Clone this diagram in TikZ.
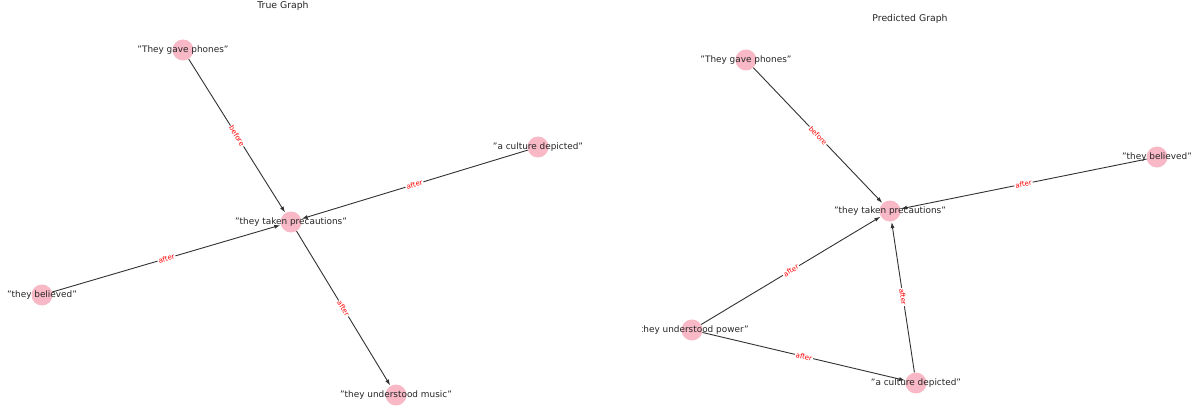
\documentclass[tikz,border=0pt]{standalone}
\usepackage{fontspec}
\setmainfont{DejaVu Sans}
\usetikzlibrary{arrows.meta}
\definecolor{nodepink}{RGB}{248,184,198}
\definecolor{edgecol}{RGB}{50,50,50}
\tikzset{
  vert/.style={circle, fill=nodepink, minimum size=21pt, inner sep=0pt},
  vlabel/.style={font=\fontsize{8.9}{10}\selectfont, text=black!85, inner sep=0pt},
  edge/.style={draw=edgecol, line width=0.9pt, -{Latex[length=6pt,width=4pt]}, shorten >=0.5pt},
  elabel/.style={midway, sloped, fill=white, inner sep=1pt, text=red, font=\fontsize{7}{8}\selectfont},
  title/.style={font=\fontsize{9.3}{10}\selectfont, text=black!85}
}
\begin{document}
\begin{tikzpicture}[x=1pt,y=-1pt]
\useasboundingbox[fill=white] (0,0) rectangle (1191,409);
% titles
\node[title] (t1) at (283,6) {True Graph};
\node[title] (t2) at (910,19) {Predicted Graph};
% ---------- True graph ----------
\node[vert] (A) at (183,50) {};
\node[vert] (T) at (291,222) {};
\node[vert] (C) at (538,147) {};
\node[vert] (B) at (42,295) {};
\node[vert] (M) at (396,395) {};
\draw[edge] (A) -- (T) node[elabel] {before};
\draw[edge] (C) -- (T) node[elabel] {after};
\draw[edge] (B) -- (T) node[elabel] {after};
\draw[edge] (T) -- (M) node[elabel] {after};
\node[vlabel] (lA) at (183,50) {"They gave phones"};
\node[vlabel] (lT) at (291,222) {"they taken precautions"};
\node[vlabel] (lC) at (538,147) {"a culture depicted"};
\node[vlabel] (lB) at (42,295) {"they believed"};
\node[vlabel] (lM) at (396,395) {"they understood music"};
% ---------- Predicted graph ----------
\node[vert] (A2) at (746,60) {};
\node[vert] (T2) at (890,211) {};
\node[vert] (B2) at (1157,157) {};
\node[vert] (P) at (692,330) {};
\node[vert] (D) at (916,383) {};
\draw[edge] (A2) -- (T2) node[elabel] {before};
\draw[edge] (B2) -- (T2) node[elabel] {after};
\draw[edge] (P) -- (T2) node[elabel] {after};
\draw[edge] (P) -- (D) node[elabel] {after};
\draw[edge] (D) -- (T2) node[elabel] {after};
\node[vlabel] (lA2) at (746,60) {"They gave phones"};
\node[vlabel] (lT2) at (890,211) {"they taken precautions"};
\node[vlabel] (lB2) at (1157,157) {"they believed"};
\begin{scope}
\clip (642,0) rectangle (1191,409);
\node[vlabel] (lP) at (692,330) {"they understood power"};
\end{scope}
\node[vlabel] (lD) at (916,383) {"a culture depicted"};
\end{tikzpicture}
\end{document}
